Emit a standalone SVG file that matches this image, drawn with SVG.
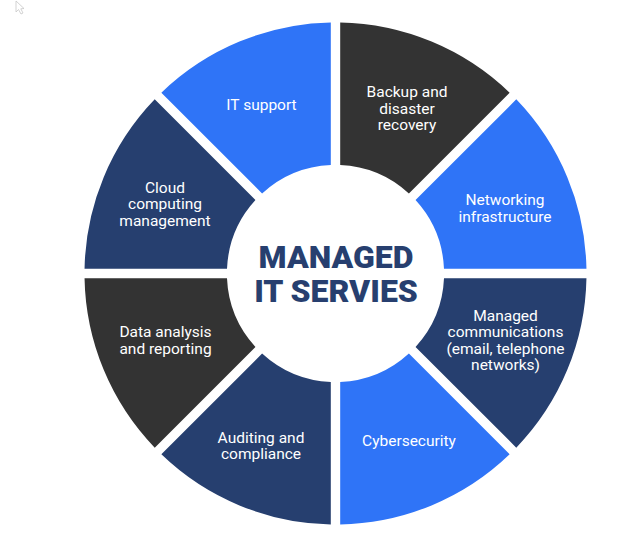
<svg xmlns="http://www.w3.org/2000/svg" xmlns:xlink="http://www.w3.org/1999/xlink" width="640" height="550" viewBox="0 0 640 550">
  <style>
    .lbl { font-family: Roboto, "Liberation Sans", sans-serif; font-size: 15.5px; fill: #ffffff; text-anchor: middle; }
    .title { font-family: Roboto, "Liberation Sans", sans-serif; font-size: 32px; font-weight: 900; fill: #273F6F; text-anchor: middle; }
    .blue { fill: #2F74F7; }
    .navy { fill: #263F6F; }
    .gray { fill: #333333; }
  </style>
  <defs>
    <path id="seg" d="M340.2,22.544 A251,251 0 0 1 509.632,92.722 L408.897,193.457 A108.6,108.6 0 0 0 340.2,165.002 Z"/>
  </defs>
  <rect width="640" height="550" fill="#ffffff"/>
  <path d="M16,1 L16,12 L18.5,9.5 L21,14 L23,13 L20.8,8.8 L24,8.5 Z" fill="#ffffff" stroke="#c8c8c8" stroke-width="0.8"/>

  <g id="backup">
    <use xlink:href="#seg" class="gray"/>
    <text class="lbl" x="407" y="97">Backup and<tspan x="407" dy="16.5">disaster</tspan><tspan x="407" dy="16.5">recovery</tspan></text>
  </g>
  <g id="networking">
    <use xlink:href="#seg" class="blue" transform="rotate(45 335.5 273.5)"/>
    <text class="lbl" x="505" y="205">Networking<tspan x="505" dy="16.5">infrastructure</tspan></text>
  </g>
  <g id="communications">
    <use xlink:href="#seg" class="navy" transform="rotate(90 335.5 273.5)"/>
    <text class="lbl" x="505.5" y="320.5">Managed<tspan x="505.5" dy="16.5">communications</tspan><tspan x="505.5" dy="16.5">(email, telephone</tspan><tspan x="505.5" dy="16.5">networks)</tspan></text>
  </g>
  <g id="cybersecurity">
    <use xlink:href="#seg" class="blue" transform="rotate(135 335.5 273.5)"/>
    <text class="lbl" x="409" y="446">Cybersecurity</text>
  </g>
  <g id="auditing">
    <use xlink:href="#seg" class="navy" transform="rotate(180 335.5 273.5)"/>
    <text class="lbl" x="261" y="442.5">Auditing and<tspan x="261" dy="16.5">compliance</tspan></text>
  </g>
  <g id="data">
    <use xlink:href="#seg" class="gray" transform="rotate(225 335.5 273.5)"/>
    <text class="lbl" x="165.5" y="337">Data analysis<tspan x="165.5" dy="16.5">and reporting</tspan></text>
  </g>
  <g id="cloud">
    <use xlink:href="#seg" class="navy" transform="rotate(270 335.5 273.5)"/>
    <text class="lbl" x="165" y="192.5">Cloud<tspan x="165" dy="16.5">computing</tspan><tspan x="165" dy="16.5">management</tspan></text>
  </g>
  <g id="it-support">
    <use xlink:href="#seg" class="blue" transform="rotate(315 335.5 273.5)"/>
    <text class="lbl" x="261.5" y="110">IT support</text>
  </g>

  <g id="center">
    <text class="title" x="336" y="267.5">MANAGED<tspan x="336" dy="34.3">IT SERVIES</tspan></text>
  </g>
  <g id="connectors"/>
</svg>
